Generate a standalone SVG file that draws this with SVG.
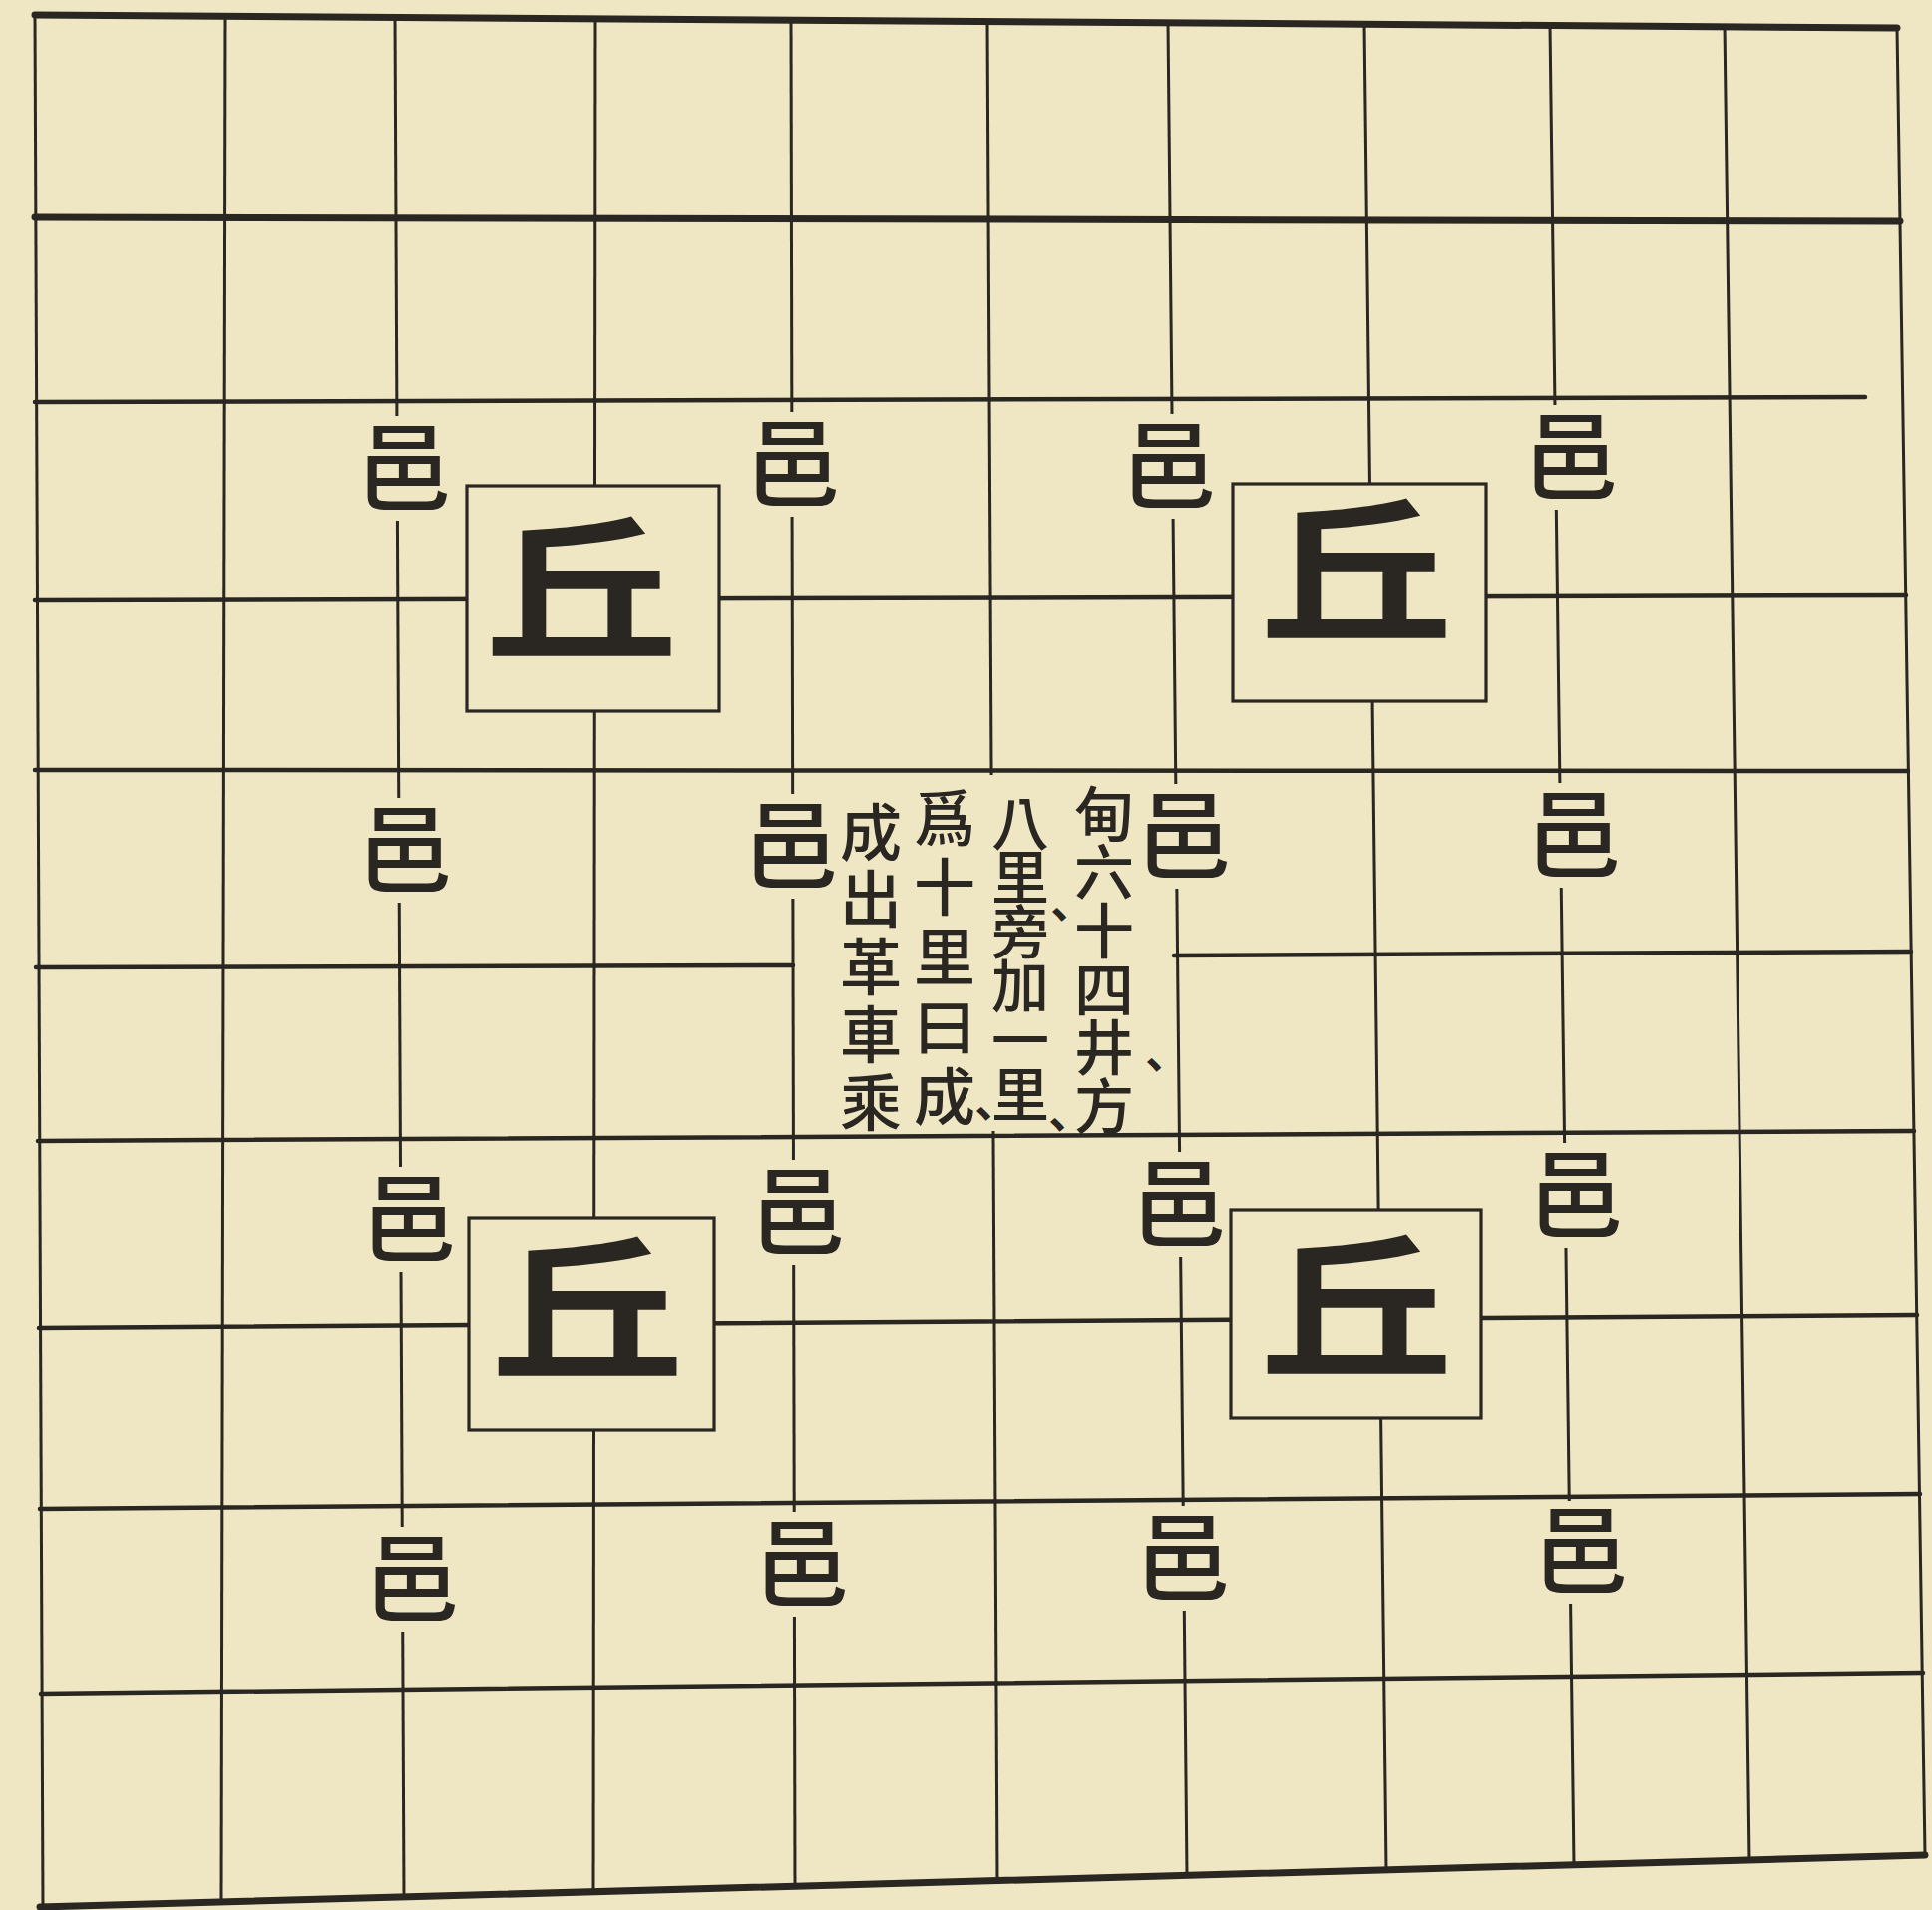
<svg xmlns="http://www.w3.org/2000/svg" width="1937" height="1915" viewBox="0 0 1937 1915">
<style>
.bg{fill:#efe6c3}
.h{stroke:#2a2622;stroke-width:4.5;stroke-linecap:round;fill:none}
.hb{stroke:#2a2622;stroke-width:7;stroke-linecap:round;fill:none}
.v{stroke:#2a2622;stroke-width:3;fill:none}
.mask{fill:#efe6c3;stroke:none}
.box{fill:#efe6c3;stroke:#2a2622;stroke-width:3.2}
text{font-family:"Noto Sans CJK TC","Noto Sans CJK SC","Noto Sans CJK JP",sans-serif;fill:#2a2622;text-anchor:middle}
.yi{font-size:96px;font-weight:500}
.qiu{font-size:194px;font-weight:700}
.col{writing-mode:vertical-rl;text-orientation:upright;text-anchor:start;font-weight:500}
.dun{font-size:44px;font-weight:700}
</style>
<rect class="bg" x="0" y="0" width="1937" height="1915"/>
<g id="grid">
<line class="hb" x1="35" y1="15" x2="1902" y2="28"/>
<line class="hb" x1="35" y1="218" x2="1905" y2="222"/>
<line class="h" x1="35" y1="403" x2="1870" y2="398"/>
<line class="h" x1="35" y1="602" x2="1911" y2="597"/>
<line class="h" x1="35" y1="772" x2="1913" y2="773"/>
<line class="h" x1="36" y1="970" x2="795" y2="968"/>
<line class="h" x1="1177" y1="958" x2="1916" y2="954"/>
<line class="h" x1="38" y1="1144" x2="1919" y2="1134"/>
<line class="h" x1="39" y1="1331" x2="1922" y2="1318"/>
<line class="h" x1="40" y1="1513" x2="1925" y2="1498"/>
<line class="h" x1="41" y1="1698" x2="1928" y2="1677"/>
<line class="hb" x1="40" y1="1912" x2="1930" y2="1860"/>
<line class="v" x1="35" y1="15" x2="43" y2="1912"/>
<line class="v" x1="226" y1="16" x2="222" y2="1907"/>
<line class="v" x1="396" y1="17" x2="405" y2="1902"/>
<line class="v" x1="597" y1="19" x2="595" y2="1897"/>
<line class="v" x1="793" y1="20" x2="797" y2="1891"/>
<line class="v" x1="990" y1="21" x2="1000" y2="1886"/>
<line class="v" x1="1171" y1="23" x2="1190" y2="1880"/>
<line class="v" x1="1368" y1="24" x2="1390" y2="1875"/>
<line class="v" x1="1554" y1="25" x2="1578" y2="1870"/>
<line class="v" x1="1729" y1="26" x2="1754" y2="1865"/>
<line class="v" x1="1902" y1="28" x2="1930" y2="1860"/>
</g>
<g id="centre">
<rect class="mask" x="800" y="777" width="370" height="357"/>
<text id="col1" class="col" x="1107" y="786" font-size="60" letter-spacing="-1.4">甸六十四井方</text>
<text id="col2" class="col" x="1023" y="796" font-size="58" letter-spacing="-3.6">八里旁加一里</text>
<text id="col3" class="col" x="947" y="789" font-size="62" letter-spacing="7.9">爲十里曰成</text>
<text id="col4" class="col" x="873" y="803" font-size="62" letter-spacing="5.9">成出革車乘</text>
<text class="dun" x="1157" y="1084">、</text>
<text class="dun" x="1062" y="933">、</text>
<text class="dun" x="1060" y="1144">、</text>
<text class="dun" x="986" y="1133">、</text>
</g>
<g id="qiu-nw"><rect class="box" x="468" y="487" width="253" height="226"/><text class="qiu" transform="translate(583,590) scale(1,0.82)" y="74">丘</text></g>
<g id="qiu-ne"><rect class="box" x="1236" y="485" width="254" height="218"/><text class="qiu" transform="translate(1360,572) scale(1,0.82)" y="74">丘</text></g>
<g id="qiu-sw"><rect class="box" x="470" y="1221" width="246" height="213"/><text class="qiu" transform="translate(589,1312) scale(1,0.82)" y="74">丘</text></g>
<g id="qiu-se"><rect class="box" x="1234" y="1213" width="251" height="209"/><text class="qiu" transform="translate(1360,1310) scale(1,0.82)" y="74">丘</text></g>
<g id="yi-a1"><rect class="mask" x="361" y="417" width="88" height="105"/><text class="yi" x="405" y="503.5">邑</text></g>
<g id="yi-a2"><rect class="mask" x="751" y="413" width="88" height="105"/><text class="yi" x="795" y="499.5">邑</text></g>
<g id="yi-a3"><rect class="mask" x="1128" y="415" width="88" height="105"/><text class="yi" x="1172" y="501.5">邑</text></g>
<g id="yi-a4"><rect class="mask" x="1531" y="406" width="88" height="105"/><text class="yi" x="1575" y="492.5">邑</text></g>
<g id="yi-b1"><rect class="mask" x="362" y="800" width="88" height="105"/><text class="yi" x="406" y="886.5">邑</text></g>
<g id="yi-b2"><rect class="mask" x="749" y="796" width="88" height="105"/><text class="yi" x="793" y="882.5">邑</text></g>
<g id="yi-b3"><rect class="mask" x="1141" y="786" width="88" height="105"/><text class="yi" x="1187" y="872.5">邑</text></g>
<g id="yi-b4"><rect class="mask" x="1534" y="785" width="88" height="105"/><text class="yi" x="1578" y="871.5">邑</text></g>
<g id="yi-c1"><rect class="mask" x="366" y="1170" width="88" height="105"/><text class="yi" x="410" y="1256.5">邑</text></g>
<g id="yi-c2"><rect class="mask" x="756" y="1163" width="88" height="105"/><text class="yi" x="800" y="1249.5">邑</text></g>
<g id="yi-c3"><rect class="mask" x="1138" y="1155" width="88" height="105"/><text class="yi" x="1182" y="1241.5">邑</text></g>
<g id="yi-c4"><rect class="mask" x="1536" y="1146" width="88" height="105"/><text class="yi" x="1580" y="1232.5">邑</text></g>
<g id="yi-d1"><rect class="mask" x="369" y="1531" width="88" height="105"/><text class="yi" x="413" y="1617.5">邑</text></g>
<g id="yi-d2"><rect class="mask" x="760" y="1516" width="88" height="105"/><text class="yi" x="804" y="1602.5">邑</text></g>
<g id="yi-d3"><rect class="mask" x="1142" y="1510" width="88" height="105"/><text class="yi" x="1186" y="1596.5">邑</text></g>
<g id="yi-d4"><rect class="mask" x="1541" y="1505" width="88" height="103"/><text class="yi" x="1585" y="1589.5">邑</text></g>
</svg>
